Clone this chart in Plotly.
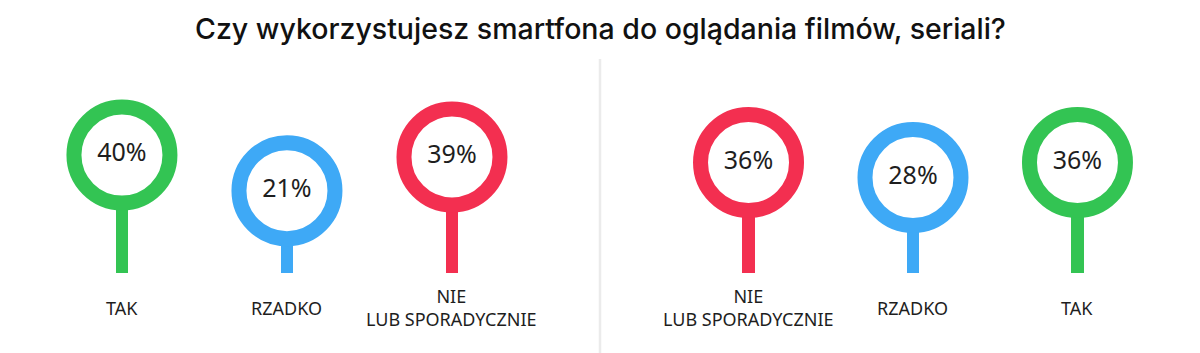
import plotly.graph_objects as go

# ---- data ----
title_text = "Czy wykorzystujesz smartfona do oglądania filmów, seriali?"
left_categories = ["TAK", "RZADKO", "NIE<br>LUB SPORADYCZNIE"]
left_values = [40, 21, 39]
right_categories = ["NIE<br>LUB SPORADYCZNIE", "RZADKO", "TAK"]
right_values = [36, 28, 36]

# ---- styles ----
GREEN = "#33c453"
BLUE = "#3ea9f6"
RED = "#f32f50"
color_map = {"TAK": GREEN, "RZADKO": BLUE, "NIE<br>LUB SPORADYCZNIE": RED}
TEXT = "#1e1e1e"

W, H = 1200, 353
PX_PER_UNIT = 1.873      # vertical scale (pixels per percentage point)
OFFSET = 22.96           # stems start this many units below zero
BASELINE_PX = 273
base_val = -OFFSET
y_top = base_val + BASELINE_PX / PX_PER_UNIT
y_bot = base_val - (H - BASELINE_PX) / PX_PER_UNIT

fig = go.Figure()

def add_group(cats, vals, xa):
    cols = [color_map[c] for c in cats]
    fig.add_trace(go.Bar(
        x=cats, y=[v - base_val for v in vals], base=[base_val] * len(vals),
        width=0.076, marker=dict(color=cols, line=dict(width=0)),
        xaxis=xa, yaxis="y", hoverinfo="skip", showlegend=False))
    fig.add_trace(go.Scatter(
        x=cats, y=vals, mode="markers+text",
        text=[f"{v}%" for v in vals], textposition="middle center",
        textfont=dict(family="Noto Sans", size=25, color=TEXT),
        marker=dict(size=96, color="white", line=dict(color=cols, width=15)),
        xaxis=xa, yaxis="y", cliponaxis=False, hoverinfo="skip", showlegend=False))
    for c in cats:
        fig.add_annotation(
            x=c, y=base_val, xref=xa, yref="y", text=c, showarrow=False,
            yanchor="middle", yshift=-34.5,
            font=dict(family="Noto Sans", size=18, color=TEXT), align="center")

add_group(left_categories, left_values, "x")
add_group(right_categories, right_values, "x2")

fig.add_shape(type="line", xref="paper", yref="paper", x0=0.5, x1=0.5,
              y0=0, y1=1 - 59 / H, line=dict(color="#ebebeb", width=2.5))

fig.add_annotation(text=title_text, xref="paper", yref="paper", x=0.5,
                   y=1 - 28.5 / H, yanchor="middle", showarrow=False,
                   font=dict(family="Inter", size=28.5, color="#111111", weight=500))

fig.update_layout(
    width=W, height=H, margin=dict(l=0, r=0, t=0, b=0),
    paper_bgcolor="white", plot_bgcolor="white",
    xaxis=dict(domain=[0, 0.5], type="category", range=[-0.739, 2.897],
               visible=False, fixedrange=True),
    xaxis2=dict(domain=[0.5, 1], type="category", range=[-0.903, 2.745],
                visible=False, fixedrange=True),
    yaxis=dict(range=[y_bot, y_top], visible=False, fixedrange=True),
    bargap=0,
)

fig.write_html("out.html")
